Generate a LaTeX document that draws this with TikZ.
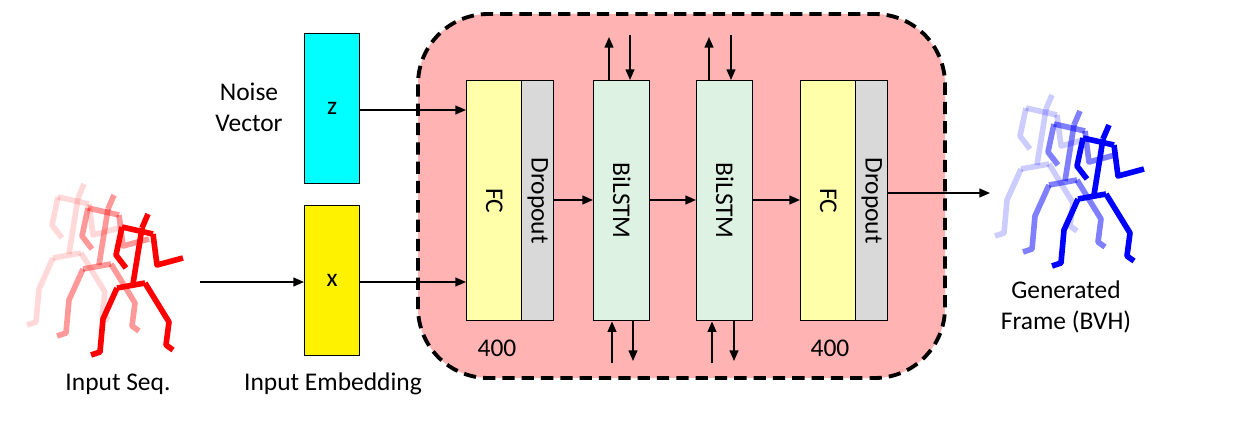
\documentclass[tikz,border=0pt]{standalone}
\usepackage{fontspec}
\setmainfont{Carlito}
\usetikzlibrary{arrows.meta}
\definecolor{pinkbg}{HTML}{FFB3B3}
\definecolor{fcy}{HTML}{FFFFAA}
\definecolor{lstm}{HTML}{DDF2E3}
\definecolor{gr}{HTML}{D9D9D9}
\definecolor{cyn}{HTML}{00FFFF}
\tikzset{
 blk/.style={draw=black,thick,anchor=north west,inner sep=0pt},
 lbl/.style={font=\fontsize{14.5}{17.5}\selectfont,align=center},
 arr/.style={-{Triangle[length=6pt,width=5pt]},line width=0.9pt},
 limb/.style={line width=3.2pt,line cap=butt,line join=round},
 pics/fig/.style={code={
  \draw[limb] (148,214)--(142,228);
  \draw[limb] (122,227)--(153,234);
  \draw[limb] (122,227)--(116,255)--(126,268);
  \draw[limb] (153,234)--(157,265)--(183,258);
  \draw[limb] (142,228)--(133,284);
  \draw[limb] (117,288)--(145,283);
  \draw[limb] (117,288)--(103,319)--(100,352)--(91,355);
  \draw[limb] (145,283)--(169,322)--(166,345)--(173,350);
 }}
}
\begin{document}
\begin{tikzpicture}[x=0.02cm,y=-0.02cm]
\useasboundingbox (0,0) rectangle (1242,446);
\draw[line width=2.2pt,dashed,dash pattern=on 7pt off 4pt,fill=pinkbg,rounded corners=40] (418,14) rectangle (945,378);
\node[blk,fill=cyn,minimum width=55*0.02cm,minimum height=150*0.02cm] (z) at (304,33) {};
\node[lbl] at (z.center) {z};
\node[blk,fill=yellow,minimum width=55*0.02cm,minimum height=150*0.02cm] (x) at (304,205) {};
\node[lbl] at (x.center) {x};
\node[lbl] (nv) at (249,107) {Noise\\Vector};
\node[lbl] (ie) at (333,384) {Input Embedding};
\node[lbl] (is) at (118,384) {Input Seq.};
\node[lbl] (gf) at (1066,307) {Generated\\Frame (BVH)};
% blocks
\node[blk,fill=fcy,minimum width=55*0.02cm,minimum height=240*0.02cm] (fc1) at (466,80) {};
\node[blk,fill=gr,minimum width=32*0.02cm,minimum height=240*0.02cm] (d1) at (521,80) {};
\node[blk,fill=lstm,minimum width=56*0.02cm,minimum height=240*0.02cm] (b1) at (593,80) {};
\node[blk,fill=lstm,minimum width=56*0.02cm,minimum height=240*0.02cm] (b2) at (696,80) {};
\node[blk,fill=fcy,minimum width=55*0.02cm,minimum height=240*0.02cm] (fc2) at (800,80) {};
\node[blk,fill=gr,minimum width=32*0.02cm,minimum height=240*0.02cm] (d2) at (855,80) {};
\foreach \n/\t in {fc1/FC,d1/Dropout,b1/BiLSTM,b2/BiLSTM,fc2/FC,d2/Dropout}
  \node[lbl,rotate=-90] at (\n.center) {\t};
\node[lbl] (n1) at (497,348) {400};
\node[lbl] (n2) at (830,348) {400};
% arrows
\coordinate (in0) at (200,282);
\draw[arr] (in0) -- (x.west |- in0);
\draw[arr] (z.east |- 0,110) -- (fc1.west |- 0,110);
\draw[arr] (x.east |- 0,282) -- (fc1.west |- 0,282);
\draw[arr] (d1.east |- 0,200) -- (b1.west |- 0,200);
\draw[arr] (b1.east |- 0,200) -- (b2.west |- 0,200);
\draw[arr] (b2.east |- 0,200) -- (fc2.west |- 0,200);
\coordinate (outp) at (990,193);
\draw[arr] (d2.east |- outp) -- (outp);
\foreach \b/\xa/\xb in {b1/609/630,b2/709/731}{
  \coordinate (t\b) at (\xb,35); \coordinate (u\b) at (\xa,37);
  \draw[arr] (\b.north -| \xa,0) -- (u\b);
  \draw[arr] (t\b) -- (\b.north -| \xb,0);
  \coordinate (s\b) at (\xa+3,363); \coordinate (v\b) at (\xb+3,361);
  \draw[arr] (s\b) -- (\b.south -| \xa+3,0);
  \draw[arr] (\b.south -| \xb+3,0) -- (v\b);
}
% stick figures
\begin{scope}[red]
 \pic[opacity=0.15,shift={(-64,-30)}] {fig};
 \pic[opacity=0.4,shift={(-34,-19)}] {fig};
 \pic {fig};
\end{scope}
\begin{scope}[blue]
 \pic[opacity=0.2,shift={(961-57,-89-30)}] {fig};
 \pic[opacity=0.5,shift={(961-29,-89-14)}] {fig};
 \pic[shift={(961,-89)}] {fig};
\end{scope}
\end{tikzpicture}
\end{document}
